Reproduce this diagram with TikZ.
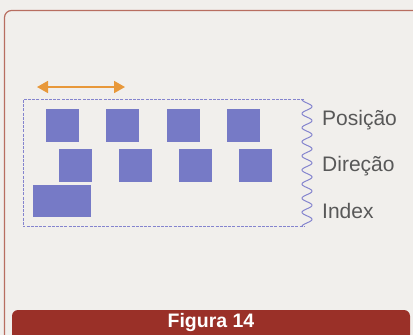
\documentclass[tikz,border=0pt]{standalone}
\usepackage{fontspec}
\setmainfont{Liberation Sans}
\usetikzlibrary{arrows.meta}
\definecolor{bgc}{RGB}{241,239,236}
\definecolor{framec}{RGB}{184,110,96}
\definecolor{barc}{RGB}{154,48,40}
\definecolor{blockc}{RGB}{118,122,198}
\definecolor{dashc}{RGB}{132,132,206}
\definecolor{arrowc}{RGB}{232,152,58}
\definecolor{labelc}{RGB}{88,88,88}
\tikzset{
  block/.style={fill=blockc, draw=none},
  lbl/.style={anchor=west, inner sep=0pt, text=labelc, font=\fontsize{21}{24}\selectfont},
  boxline/.style={draw=dashc, line width=0.9pt, dash pattern=on 3pt off 1.2pt},
}
\begin{document}
\begin{tikzpicture}[x=1pt,y=-1pt]
\useasboundingbox (0,0) rectangle (413,335);
\fill[bgc] (0,0) rectangle (413,335);
% outer frame
\draw[framec, line width=1.2pt, rounded corners=7pt] (4.5,340) -- (4.5,10.5) -- (420,10.5);
% bottom bar
\fill[barc, rounded corners=6pt] (12,310) rectangle (410,345);
\node[font=\bfseries\fontsize{19.5}{22}\selectfont, text=white, inner sep=0pt] (fig) at (211,322) {Figura 14};
% orange double arrow
\coordinate (al) at (37,87);
\coordinate (ar) at (125,87);
\draw[arrowc, line width=1.8pt, {Triangle[length=11pt,width=12pt]}-{Triangle[length=11pt,width=12pt]}] (al) -- (ar);
% dashed box
\coordinate (tr) at (304,99.5);
\coordinate (br) at (304,226.5);
\draw[boxline] (tr) -- (23,99.5) -- (23,226.5) -- (br);
\draw[dashc, line width=1pt] plot[domain=0:127, samples=250, smooth] ({307-5*cos(\x/14.1*360)}, {99.5+\x});
% blocks row 1
\foreach \i in {0,1,2,3} {
  \fill[block] ({46+60.3*\i},109) rectangle ++(33,33);
}
% row 2
\foreach \i in {0,1,2,3} {
  \fill[block] ({58.5+60.1*\i},148.5) rectangle ++(33,33);
}
% row 3
\fill[block] (33,184.5) rectangle (91,217);
% labels
\node[lbl] (pos) at (322,120) {Posição};
\node[lbl] (dir) at (322,166) {Direção};
\node[lbl] (idx) at (322,211) {Index};
\end{tikzpicture}
\end{document}
